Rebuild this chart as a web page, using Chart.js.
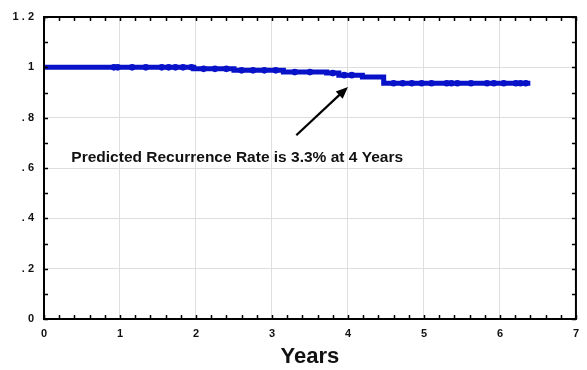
<!DOCTYPE html>
<html>
<head>
<meta charset="utf-8">
<script src="https://cdn.jsdelivr.net/npm/chart.js@4.4.0/dist/chart.umd.min.js"></script>
<style>
    html, body { margin: 0; padding: 0; background: #fff; }
    #wrap { width: 587px; height: 370px; }
</style>
</head>
<body>
<div id="wrap"><canvas id="kmChart" width="587" height="370"></canvas></div>
<script>
// step curve (year, proportion free of recurrence)
const stepYears = [0, 1.97, 2.5, 3.15, 3.72, 3.88, 4.19, 4.47, 6.4];
const stepValues = [1.0, 0.994, 0.988, 0.981, 0.977, 0.969, 0.962, 0.937, 0.937];

// censored observations
const censorYears = [0.92, 0.97, 1.16, 1.34, 1.55, 1.64, 1.73, 1.83, 1.94,
    2.1, 2.25, 2.4, 2.6, 2.75, 2.9, 3.05, 3.3, 3.5, 3.8, 3.95, 4.05,
    4.6, 4.72, 4.84, 4.97, 5.1, 5.3, 5.36, 5.44, 5.62, 5.83, 5.92, 6.05, 6.21, 6.27, 6.34];
const censorValues = [1.0, 1.0, 1.0, 1.0, 1.0, 1.0, 1.0, 1.0, 1.0,
    0.994, 0.994, 0.994, 0.988, 0.988, 0.988, 0.988, 0.981, 0.981, 0.977, 0.969, 0.969,
    0.937, 0.937, 0.937, 0.937, 0.937, 0.937, 0.937, 0.937, 0.937, 0.937, 0.937, 0.937, 0.937, 0.937, 0.937];

const xTickValues = [0, 1, 2, 3, 4, 5, 6, 7];
const yTickValues = [0, 0.2, 0.4, 0.6, 0.8, 1, 1.2];
const yTickLabels = ['0', '. 2', '. 4', '. 6', '. 8', '1', '1 . 2'];

const noteText = 'Predicted Recurrence Rate is 3.3% at 4 Years';
const arrowFrom = { x: 3.32, y: 0.73 };
const arrowTo = { x: 4.0, y: 0.922 };

const blue = 'rgb(8, 18, 200)';
const fontFamily = '"Liberation Sans", Arial, Helvetica, sans-serif';

function toXY(xs, ys) {
    return xs.map(function (x, i) { return { x: x, y: ys[i] }; });
}

const framePlugin = {
    id: 'frame',
    afterDraw: function (chart) {
        const ctx = chart.ctx;
        const a = chart.chartArea;
        const sx = chart.scales.x;
        const sy = chart.scales.y;
        ctx.save();
        ctx.strokeStyle = '#000';
        ctx.lineWidth = 1.5;
        // minor ticks, pointing inward
        for (let v = 0; v <= 7.001; v += 0.2) {
            const px = Math.round(sx.getPixelForValue(v)) + 0.5;
            ctx.beginPath();
            ctx.moveTo(px, a.bottom); ctx.lineTo(px, a.bottom - 4);
            ctx.moveTo(px, a.top); ctx.lineTo(px, a.top + 4);
            ctx.stroke();
        }
        for (let v = 0; v <= 1.2001; v += 0.1) {
            const py = Math.round(sy.getPixelForValue(v)) + 0.5;
            ctx.beginPath();
            ctx.moveTo(a.left, py); ctx.lineTo(a.left + 4, py);
            ctx.moveTo(a.right, py); ctx.lineTo(a.right - 4, py);
            ctx.stroke();
        }
        ctx.lineWidth = 2;
        ctx.strokeRect(a.left, a.top, a.right - a.left, a.bottom - a.top);

        // annotation text
        ctx.fillStyle = '#111';
        ctx.font = 'bold 15.5px ' + fontFamily;
        ctx.textBaseline = 'middle';
        ctx.textAlign = 'left';
        ctx.fillText(noteText, sx.getPixelForValue(0.36), sy.getPixelForValue(0.64));

        // arrow
        const x1 = sx.getPixelForValue(arrowFrom.x), y1 = sy.getPixelForValue(arrowFrom.y);
        const x2 = sx.getPixelForValue(arrowTo.x), y2 = sy.getPixelForValue(arrowTo.y);
        const ang = Math.atan2(y2 - y1, x2 - x1);
        ctx.strokeStyle = '#000';
        ctx.lineWidth = 2.2;
        ctx.beginPath();
        ctx.moveTo(x1, y1);
        ctx.lineTo(x2 - 8 * Math.cos(ang), y2 - 8 * Math.sin(ang));
        ctx.stroke();
        ctx.fillStyle = '#000';
        ctx.beginPath();
        ctx.moveTo(x2, y2);
        ctx.lineTo(x2 - 13 * Math.cos(ang - 0.4), y2 - 13 * Math.sin(ang - 0.4));
        ctx.lineTo(x2 - 13 * Math.cos(ang + 0.4), y2 - 13 * Math.sin(ang + 0.4));
        ctx.closePath();
        ctx.fill();
        ctx.restore();
    }
};

new Chart(document.getElementById('kmChart'), {
    type: 'line',
    data: {
        datasets: [
            {
                label: 'Recurrence-free',
                data: toXY(stepYears, stepValues),
                stepped: 'before',
                borderColor: blue,
                borderWidth: 5,
                pointRadius: 0,
                fill: false
            },
            {
                label: 'Censored',
                type: 'scatter',
                data: toXY(censorYears, censorValues),
                pointRadius: 3.3,
                pointBackgroundColor: blue,
                pointBorderColor: blue,
                pointBorderWidth: 0
            }
        ]
    },
    options: {
        responsive: false,
        animation: false,
        layout: { padding: { top: 17, right: 4, left: 0, bottom: 0 } },
        plugins: {
            legend: { display: false },
            tooltip: { enabled: false }
        },
        scales: {
            x: {
                type: 'linear',
                min: 0,
                max: 7,
                afterBuildTicks: function (axis) {
                    axis.ticks = xTickValues.map(function (v) { return { value: v }; });
                },
                afterFit: function (axis) { axis.height = 51; },
                grid: { color: '#dedede', lineWidth: 1, drawTicks: false },
                border: { display: false },
                ticks: {
                    padding: 8,
                    color: '#111',
                    font: { family: fontFamily, size: 11, weight: 'bold' }
                },
                title: {
                    display: true,
                    text: 'Years',
                    color: '#111',
                    padding: { top: 0, bottom: 0 },
                    font: { family: fontFamily, size: 22, weight: 'bold' }
                }
            },
            y: {
                type: 'linear',
                min: 0,
                max: 1.2,
                afterBuildTicks: function (axis) {
                    axis.ticks = yTickValues.map(function (v) { return { value: v }; });
                },
                afterFit: function (axis) { axis.width = 44; },
                grid: { color: '#dedede', lineWidth: 1, drawTicks: false },
                border: { display: false },
                ticks: {
                    padding: 10,
                    color: '#111',
                    font: { family: fontFamily, size: 11, weight: 'bold' },
                    callback: function (value) {
                        const i = yTickValues.findIndex(function (t) { return Math.abs(t - value) < 1e-6; });
                        return i >= 0 ? yTickLabels[i] : '';
                    }
                }
            }
        }
    },
    plugins: [framePlugin]
});
</script>
</body>
</html>
